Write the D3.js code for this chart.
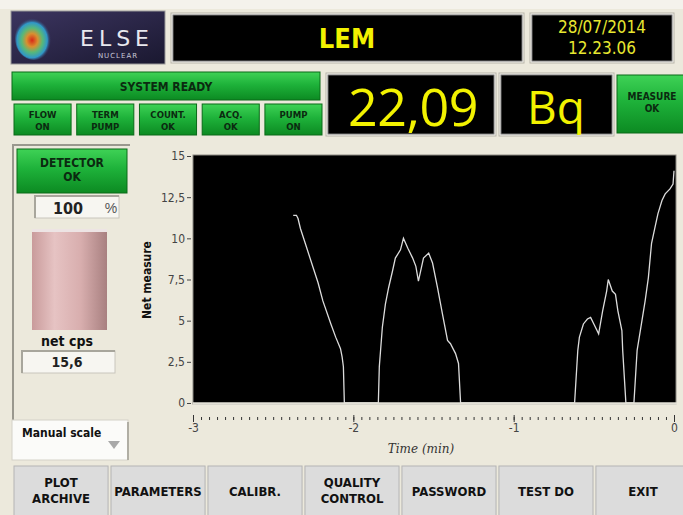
<!DOCTYPE html>
<html>
<head>
<meta charset="utf-8">
<script src="https://cdn.jsdelivr.net/npm/d3@7"></script>
<style>
  body { margin: 0; background: #ece9dc; }
  svg { display: block; }
  .cond { font-family: "Liberation Sans Narrow", "DejaVu Sans Condensed", "Arial Narrow", Arial, sans-serif; font-weight: bold; }
</style>
</head>
<body>
<script>
// ---- data ----
var times = [-2.375, -2.355, -2.345, -2.33, -2.30, -2.25, -2.22, -2.19, -2.14, -2.11, -2.08, -2.07, -2.062, -2.056,
	-1.844, -1.838, -1.819, -1.80, -1.78, -1.756, -1.738, -1.706, -1.6875, -1.66, -1.63, -1.61, -1.594, -1.5625,
	-1.53, -1.506, -1.475, -1.444, -1.4125, -1.394, -1.3625, -1.344, -1.331,
	-0.62, -0.60, -0.59, -0.565, -0.54, -0.52, -0.50, -0.47, -0.445, -0.42, -0.41, -0.385, -0.365, -0.35,
	-0.325, -0.32, -0.30, -0.25, -0.23, -0.21, -0.18, -0.16, -0.14, -0.12, -0.10, -0.075, -0.055, -0.025, -0.006, 0];
var netMeasure = [11.4, 11.4, 11.2, 10.6, 9.7, 8.2, 7.3, 6.2, 4.8, 4.0, 3.3, 2.8, 2.2, 0,
	0, 2.2, 4.6, 6.0, 7.0, 8.0, 8.8, 9.3, 10.0, 9.4, 8.8, 8.3, 7.4, 8.8,
	9.1, 8.5, 7.0, 5.4, 3.8, 3.6, 3.0, 2.4, 0,
	0, 3.2, 4.0, 4.8, 5.1, 5.2, 4.8, 4.2, 5.6, 6.8, 7.5, 6.8, 6.6, 5.6,
	4.4, 3.2, 0, 0, 3.2, 4.4, 6.2, 7.6, 9.7, 10.6, 11.5, 12.3, 12.7, 13.0, 13.3, 14.1];
var yTicks = [0, 2.5, 5, 7.5, 10, 12.5, 15];
var xTicks = [-3, -2, -1, 0];
var statusButtons = [["FLOW", "ON"], ["TERM", "PUMP"], ["COUNT.", "OK"], ["ACQ.", "OK"], ["PUMP", "ON"]];
var menuButtons = [["PLOT", "ARCHIVE"], ["PARAMETERS"], ["CALIBR."], ["QUALITY", "CONTROL"], ["PASSWORD"], ["TEST DO"], ["EXIT"]];

var W = 683, H = 515;
// comma decimals and plain hyphen minus, as on the panel
var fmt = function(d) { return String(d).replace(".", ","); };

var svg = d3.select("body").append("svg").attr("width", W).attr("height", H);
var defs = svg.append("defs");

// gradients
var g1 = defs.append("linearGradient").attr("id", "green").attr("x1", 0).attr("y1", 0).attr("x2", 0).attr("y2", 1);
g1.append("stop").attr("offset", "0%").attr("stop-color", "#3fd256");
g1.append("stop").attr("offset", "45%").attr("stop-color", "#1eb23a");
g1.append("stop").attr("offset", "100%").attr("stop-color", "#0c8a22");
var g2 = defs.append("linearGradient").attr("id", "pink");
g2.append("stop").attr("offset", "0%").attr("stop-color", "#c99b9b");
g2.append("stop").attr("offset", "30%").attr("stop-color", "#e6c3c3");
g2.append("stop").attr("offset", "65%").attr("stop-color", "#d8aeae");
g2.append("stop").attr("offset", "100%").attr("stop-color", "#a88080");
var g3 = defs.append("linearGradient").attr("id", "logo").attr("x1", 0).attr("y1", 0).attr("x2", 1).attr("y2", 1);
g3.append("stop").attr("offset", "0%").attr("stop-color", "#3c3560");
g3.append("stop").attr("offset", "100%").attr("stop-color", "#1a1830");
var g4 = defs.append("radialGradient").attr("id", "blob").attr("cx", "45%").attr("cy", "55%");
g4.append("stop").attr("offset", "0%").attr("stop-color", "#d82818");
g4.append("stop").attr("offset", "30%").attr("stop-color", "#d89030");
g4.append("stop").attr("offset", "55%").attr("stop-color", "#58b878");
g4.append("stop").attr("offset", "80%").attr("stop-color", "#3098c8");
g4.append("stop").attr("offset", "100%").attr("stop-color", "#3c3560").attr("stop-opacity", 0);

svg.append("rect").attr("width", W).attr("height", H).attr("fill", "#ece9dc");
svg.append("rect").attr("width", W).attr("height", 9).attr("fill", "#f4f2ec");

// ---- header ----
svg.append("rect").attr("x", 11).attr("y", 11).attr("width", 154).attr("height", 53).attr("fill", "url(#logo)").attr("stroke", "#999");
svg.append("ellipse").attr("cx", 34).attr("cy", 38).attr("rx", 19).attr("ry", 22).attr("fill", "url(#blob)");
svg.append("text").attr("x", 117).attr("y", 46).attr("text-anchor", "middle")
	.attr("fill", "#e8e8ee").style("font", "22px 'DejaVu Sans', sans-serif").style("letter-spacing", "5px").text("ELSE");
svg.append("text").attr("x", 118).attr("y", 58).attr("text-anchor", "middle")
	.attr("fill", "#c8c8d8").style("font", "7px 'DejaVu Sans', sans-serif").style("letter-spacing", "1px").text("NUCLEAR");

function blackBox(x, y, w, h) {
	svg.append("rect").attr("x", x - 2).attr("y", y - 2).attr("width", w + 4).attr("height", h + 4).attr("fill", "#f6f5f0").attr("stroke", "#b8b5aa");
	svg.append("rect").attr("x", x).attr("y", y).attr("width", w).attr("height", h).attr("fill", "#000").attr("stroke", "#777");
}
blackBox(173, 15, 349, 46);
svg.append("text").attr("class", "cond").attr("x", 347).attr("y", 48).attr("text-anchor", "middle")
	.attr("fill", "#f2f200").style("font-size", "27px").text("LEM");
blackBox(532, 15, 140, 46);
svg.append("text").attr("class", "cond").attr("x", 602).attr("y", 33).attr("text-anchor", "middle")
	.attr("fill", "#e8e830").style("font-size", "17px").style("font-weight", "normal").text("28/07/2014");
svg.append("text").attr("class", "cond").attr("x", 602).attr("y", 54).attr("text-anchor", "middle")
	.attr("fill", "#e8e830").style("font-size", "17px").style("font-weight", "normal").text("12.23.06");

// ---- status row ----
function greenBtn(x, y, w, h, lines, size, dy) {
	svg.append("rect").attr("x", x).attr("y", y).attr("width", w).attr("height", h)
		.attr("fill", "url(#green)").attr("stroke", "#0a6a18").attr("stroke-width", 1);
	lines.forEach(function(l, i) {
		svg.append("text").attr("class", "cond").attr("x", x + w / 2).attr("y", y + dy + i * (size + 2))
			.attr("text-anchor", "middle").attr("fill", "#0b2a10").style("font-size", size + "px").text(l);
	});
}
greenBtn(12, 72, 308, 28, ["SYSTEM READY"], 12, 19);
var bx = d3.scaleBand().domain(d3.range(statusButtons.length)).range([14, 322]).paddingInner(0.09);
statusButtons.forEach(function(b, i) {
	greenBtn(bx(i), 104, bx.bandwidth(), 31, b, 9.5, 14);
});

blackBox(328, 75, 166, 59);
svg.append("text").attr("x", 413).attr("y", 126).attr("text-anchor", "middle").attr("fill", "#f2f200")
	.style("font", "52px 'Open Sans', 'DejaVu Sans', sans-serif").style("letter-spacing", "-0.5px").text("22,09");
blackBox(501, 75, 111, 59);
svg.append("text").attr("x", 556).attr("y", 124).attr("text-anchor", "middle").attr("fill", "#f2f200")
	.style("font", "46px 'Open Sans', 'DejaVu Sans', sans-serif").text("Bq");
greenBtn(617, 75, 70, 58, ["MEASURE", "OK"], 10, 25);

// ---- left panel ----
svg.append("path").attr("d", "M13,460V145H130").attr("fill", "none").attr("stroke", "#9a988e").attr("stroke-width", 2);
greenBtn(17, 149, 110, 44, ["DETECTOR", "OK"], 12, 18);
function valueBox(x, y, w, h) {
	svg.append("rect").attr("x", x).attr("y", y).attr("width", w).attr("height", h).attr("fill", "#f7f6f1").attr("stroke", "#c8c6bc");
	svg.append("path").attr("d", "M" + x + "," + (y + h) + "V" + y + "H" + (x + w)).attr("fill", "none").attr("stroke", "#a8a69c").attr("stroke-width", 2);
}
valueBox(35, 196, 84, 22);
svg.append("text").attr("class", "cond").attr("x", 68).attr("y", 214).attr("text-anchor", "middle").attr("fill", "#222").style("font-size", "16px").text("100");
svg.append("text").attr("x", 111).attr("y", 213).attr("text-anchor", "middle").attr("fill", "#555").style("font", "14px Arial, sans-serif").text("%");
svg.append("rect").attr("x", 32).attr("y", 231).attr("width", 75).attr("height", 99).attr("fill", "url(#pink)");
svg.append("rect").attr("x", 32).attr("y", 229).attr("width", 75).attr("height", 3).attr("fill", "#ede4e4");
svg.append("text").attr("class", "cond").attr("x", 67).attr("y", 346).attr("text-anchor", "middle").attr("fill", "#111").style("font-size", "14px").text("net cps");
valueBox(22, 351, 93, 22);
svg.append("text").attr("class", "cond").attr("x", 67).attr("y", 367).attr("text-anchor", "middle").attr("fill", "#222").style("font-size", "14px").text(fmt(15.6));

svg.append("rect").attr("x", 12).attr("y", 420).attr("width", 116).attr("height", 40).attr("fill", "#fbfbf9").attr("stroke", "#d4d2c8");
svg.append("path").attr("d", "M128,422V460").attr("stroke", "#b0aea4").attr("stroke-width", 2);
svg.append("text").attr("class", "cond").attr("x", 22).attr("y", 437).attr("fill", "#111").style("font-size", "12px").text("Manual scale");
svg.append("path").attr("d", "M108,441L120,441L114,449Z").attr("fill", "#a8a8a8");

// ---- chart ----
var x = d3.scaleLinear().domain([-3, 0]).range([193, 674]);
var y = d3.scaleLinear().domain([0, 15]).range([403, 156]);

svg.append("rect").attr("x", 193).attr("y", 155).attr("width", 483).attr("height", 249)
	.attr("fill", "#000").attr("stroke", "#8c8a82");

var yAxis = svg.append("g").attr("transform", "translate(191,0)")
	.call(d3.axisLeft(y).tickValues(yTicks).tickFormat(fmt).tickSize(4).tickPadding(2));
yAxis.select(".domain").remove();
yAxis.selectAll("line").attr("stroke", "#444");
yAxis.selectAll("text").attr("fill", "#444").style("font", "12px 'DejaVu Sans Condensed', Arial, sans-serif");

var minor = svg.append("g").attr("transform", "translate(0,417)")
	.call(d3.axisBottom(x).tickValues(d3.range(-3, 0.001, 0.05)).tickFormat("").tickSize(3));
minor.select(".domain").remove();
minor.selectAll("line").attr("stroke", "#333");
var major = svg.append("g").attr("transform", "translate(0,415)")
	.call(d3.axisBottom(x).tickValues(xTicks).tickFormat(function(d) { return String(d); }).tickSize(7).tickPadding(1));
major.select(".domain").remove();
major.selectAll("line").attr("stroke", "#333");
major.selectAll("text").attr("fill", "#444").style("font", "12px 'DejaVu Sans Condensed', Arial, sans-serif");

svg.append("text").attr("transform", "translate(151,280) rotate(-90)").attr("text-anchor", "middle")
	.attr("class", "cond").attr("fill", "#111").style("font-size", "12px").text("Net measure");
svg.append("text").attr("x", 421).attr("y", 453).attr("text-anchor", "middle").attr("fill", "#333")
	.style("font", "italic 12px 'DejaVu Serif', 'Liberation Serif', serif").text("Time (min)");

var pts = times.map(function(t, i) { return [t, netMeasure[i]]; });
svg.append("path").datum(pts)
	.attr("d", d3.line().x(function(d) { return x(d[0]); }).y(function(d) { return y(d[1]); }))
	.attr("fill", "none").attr("stroke", "#dcdcdc").attr("stroke-width", 1.3);
// light bottom frame of the plot, which hides the trace where it sits on zero
svg.append("line").attr("x1", 193).attr("x2", 677).attr("y1", y(0) + 0.5).attr("y2", y(0) + 0.5)
	.attr("stroke", "#e2e0d6").attr("stroke-width", 2.5);

// ---- bottom menu ----
var mx = d3.scaleBand().domain(d3.range(menuButtons.length)).range([14, 690]).paddingInner(0.03);
menuButtons.forEach(function(b, i) {
	var bxx = mx(i), bw = mx.bandwidth();
	svg.append("rect").attr("x", bxx).attr("y", 466).attr("width", bw).attr("height", 52)
		.attr("fill", "#dcdcdc").attr("stroke", "#b4b4b4");
	b.forEach(function(l, j) {
		var yy = b.length == 1 ? 496 : 487 + j * 16;
		svg.append("text").attr("class", "cond").attr("x", bxx + bw / 2).attr("y", yy).attr("text-anchor", "middle")
			.attr("fill", "#111").style("font-size", "13px").text(l);
	});
});
</script>
</body>
</html>
